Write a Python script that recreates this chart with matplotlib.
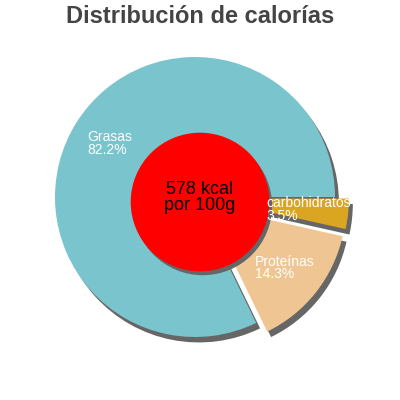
import numpy as np
import matplotlib.pyplot as plt
from matplotlib.patches import Circle

plt.rcParams['font.family'] = ['Liberation Sans', 'DejaVu Sans']

labels = ['Grasas', 'Proteínas', 'carbohidratos']
values = [82.2, 14.3, 3.5]
colors = ['#7AC4CD', '#EFC693', '#DAA520']
explode = [0, 0.1, 0.1]
kcal_text = '578 kcal\npor 100g'
title = 'Distribución de calorías'

fig = plt.figure(figsize=(4, 4), dpi=100)
ax = fig.add_axes([0, 0, 1, 1])

shadow = {'ox': 0.02, 'oy': -0.028, 'facecolor': '#666666',
          'edgecolor': 'none', 'alpha': 1}
wedges, texts = ax.pie(values, colors=colors, explode=explode, startangle=0,
                       counterclock=True, shadow=shadow, radius=1,
                       wedgeprops={'linewidth': 0}, frame=True)

# labels inside each wedge
for w, lab, val in zip(wedges, labels, values):
    mid = np.deg2rad((w.theta1 + w.theta2) / 2)
    cx, cy = w.center
    x = cx + 0.72 * np.cos(mid)
    y = cy + 0.72 * np.sin(mid)
    ax.text(x, y, '{}\n{}%'.format(lab, val), color='white', fontsize=10,
            ha='center', va='center', multialignment='left', linespacing=0.85,
            zorder=5)

# centre circle
c0 = (5 / 140, -5 / 140)
ax.add_patch(Circle((c0[0] + 0.02, c0[1] - 0.028), 0.49, color='#666666', zorder=3))
ax.add_patch(Circle(c0, 0.49, color='#FF0000', zorder=4))
ax.text(c0[0], c0[1] + 0.03, kcal_text, fontsize=13, ha='center', va='center',
        color='black', linespacing=0.95, zorder=6)

ax.set_xlim(-195 / 140, 205 / 140)
ax.set_ylim(-203 / 140, 197 / 140)
ax.axis('off')

fig.text(0.5, 0.958, title, fontsize=17, fontweight='bold', color='#444444',
         ha='center', va='center')

fig.savefig('out.png', dpi=100)
